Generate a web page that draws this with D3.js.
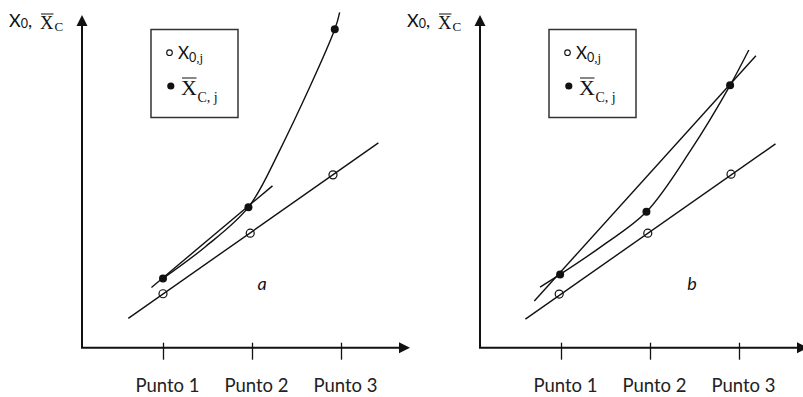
<!DOCTYPE html>
<html>
<head>
<meta charset="utf-8">
<script src="https://cdn.jsdelivr.net/npm/d3@7"></script>
<style>
  body { margin: 0; background: #fff; }
</style>
</head>
<body>
<svg id="chart" width="803" height="397"></svg>
<script>
// categories on the x axis
var xLabels = ["Punto 1", "Punto 2", "Punto 3"];
var xTicks = [1, 2, 3];
var panelNames = ["a", "b"];

// panel a : [x, value]
var aX0 = [[1.00, 1.62], [1.98, 3.44], [2.91, 5.19]];
var aXc = [[1.00, 2.08], [1.96, 4.22], [2.93, 9.56]];
var aX0Line = [[0.61, 0.88], [3.42, 6.15]];
var aChord = [[0.87, 1.81], [2.23, 4.86]];
var aCurve = [[1.00, 2.08], [1.48, 3.04], [1.96, 4.22], [2.31, 5.92], [2.93, 9.56], [2.985, 10.07]];

// panel b
var bX0 = [[0.98, 1.61], [1.975, 3.44], [2.91, 5.21]];
var bXc = [[0.99, 2.20], [1.96, 4.08], [2.90, 7.88]];
var bX0Line = [[0.60, 0.86], [3.41, 6.12]];
var bChord = [[0.70, 1.40], [3.19, 8.77]];
var bCurve = [[0.765, 1.82], [0.99, 2.20], [1.475, 3.08], [1.96, 4.08], [2.46, 5.94], [2.90, 7.88], [3.11, 8.94]];

var ink = "#111";
var svg = d3.select("#chart");

// X with a bar over it, plus a subscript
function xBar(g, x0, base, size, overY, sub, subSize, subDy) {
    var t = g.append("text")
        .attr("x", x0).attr("y", base)
        .attr("font-family", "Liberation Serif, serif")
        .attr("font-size", size)
        .attr("fill", ink)
        .text("X");
    var bb = t.node().getBBox();
    g.append("line")
        .attr("x1", bb.x + 1).attr("x2", bb.x + bb.width - 0.5)
        .attr("y1", overY).attr("y2", overY)
        .attr("stroke", ink).attr("stroke-width", 1);
    g.append("text")
        .attr("x", bb.x + bb.width + 0.5).attr("y", base + subDy)
        .attr("font-family", "Liberation Serif, serif")
        .attr("font-size", subSize)
        .attr("fill", ink)
        .text(sub);
}

function drawPanel(g, d) {
    var x = d3.scaleLinear().domain([1, 3]).range([163, 341]);
    var y = d3.scaleLinear().domain([0, 10]).range([347.7, 14.7]);
    var x0px = 82, yTop = 15, xEnd = 410;

    var line = d3.line().x(function(p) { return x(p[0]); }).y(function(p) { return y(p[1]); });

    //axes
    g.append("line").attr("x1", x0px).attr("x2", x0px).attr("y1", y(0)).attr("y2", yTop + 8)
        .attr("stroke", ink).attr("stroke-width", 2);
    g.append("path").attr("d", "M" + x0px + "," + yTop + "l-5.5,11h11z").attr("fill", ink);
    g.append("line").attr("x1", x0px - 1).attr("x2", xEnd - 8).attr("y1", y(0)).attr("y2", y(0))
        .attr("stroke", ink).attr("stroke-width", 2);
    g.append("path").attr("d", "M" + xEnd + "," + y(0) + "l-11,-5.5v11z").attr("fill", ink);

    var ax = g.append("g")
        .attr("transform", "translate(0," + y(0) + ")")
        .call(d3.axisBottom(x).tickValues(xTicks).tickSize(12)
            .tickFormat(function(v, i) { return xLabels[i]; }));
    ax.select(".domain").remove();
    ax.selectAll(".tick line").attr("y1", -5).attr("y2", 12)
        .attr("stroke", ink).attr("stroke-width", 1.3);
    ax.selectAll(".tick text")
        .attr("y", 44.7).attr("dy", 0).attr("dx", 4)
        .attr("font-family", "Lato").attr("font-size", 18.5).attr("fill", "#222");

    // axis title
    g.append("text").attr("x", 9).attr("y", 27)
        .attr("font-family", "Lato").attr("font-size", 18).attr("fill", ink)
        .html('X<tspan font-size="12.5" dy="1">0</tspan><tspan dy="-1">,</tspan>');
    xBar(g, 40, 28.5, 18.5, 14, "C", 13, 2.5);

    // lines
    g.append("path").datum(d.x0Line).attr("d", line)
        .attr("fill", "none").attr("stroke", ink).attr("stroke-width", 1.4);
    g.append("path").datum(d.chord).attr("d", line)
        .attr("fill", "none").attr("stroke", ink).attr("stroke-width", 1.4);
    g.append("path").datum(d.curve).attr("d", line.curve(d3.curveCatmullRom.alpha(0.5)))
        .attr("fill", "none").attr("stroke", ink).attr("stroke-width", 1.4);

    // points
    g.selectAll(".open").data(d.x0).enter().append("circle")
        .attr("class", "open")
        .attr("cx", function(p) { return x(p[0]); })
        .attr("cy", function(p) { return y(p[1]); })
        .attr("r", 4).attr("fill", "none").attr("stroke", ink).attr("stroke-width", 1.2);
    g.selectAll(".full").data(d.xc).enter().append("circle")
        .attr("class", "full")
        .attr("cx", function(p) { return x(p[0]); })
        .attr("cy", function(p) { return y(p[1]); })
        .attr("r", 4).attr("fill", ink);

    // legend
    g.append("rect").attr("x", 151).attr("y", 29.5).attr("width", 87).attr("height", 88)
        .attr("fill", "#fff").attr("stroke", "#333").attr("stroke-width", 1.5);
    g.append("circle").attr("cx", 169.5).attr("cy", 52.7).attr("r", 2.8)
        .attr("fill", "none").attr("stroke", ink).attr("stroke-width", 1.1);
    g.append("text").attr("x", 178).attr("y", 59)
        .attr("font-family", "Lato").attr("font-size", 17).attr("fill", ink)
        .html('X<tspan font-size="12.5" dy="2.5">0</tspan><tspan font-family="Liberation Serif, serif" font-size="13">,j</tspan>');
    g.append("circle").attr("cx", 170.8).attr("cy", 86).attr("r", 3.6).attr("fill", ink);
    xBar(g, 181, 95, 22, 78, "C, j", 14, 7);

    // panel letter
    g.append("text").attr("x", d.labelX).attr("y", 290)
        .attr("text-anchor", "middle")
        .attr("font-family", "Lato").attr("font-style", "italic")
        .attr("font-size", 18).attr("fill", ink)
        .text(d.name);
}

drawPanel(svg.append("g"), {
    name: panelNames[0], labelX: 262,
    x0: aX0, xc: aXc, x0Line: aX0Line, chord: aChord, curve: aCurve
});
drawPanel(svg.append("g").attr("transform", "translate(398,0)"), {
    name: panelNames[1], labelX: 294,
    x0: bX0, xc: bXc, x0Line: bX0Line, chord: bChord, curve: bCurve
});
</script>
</body>
</html>
